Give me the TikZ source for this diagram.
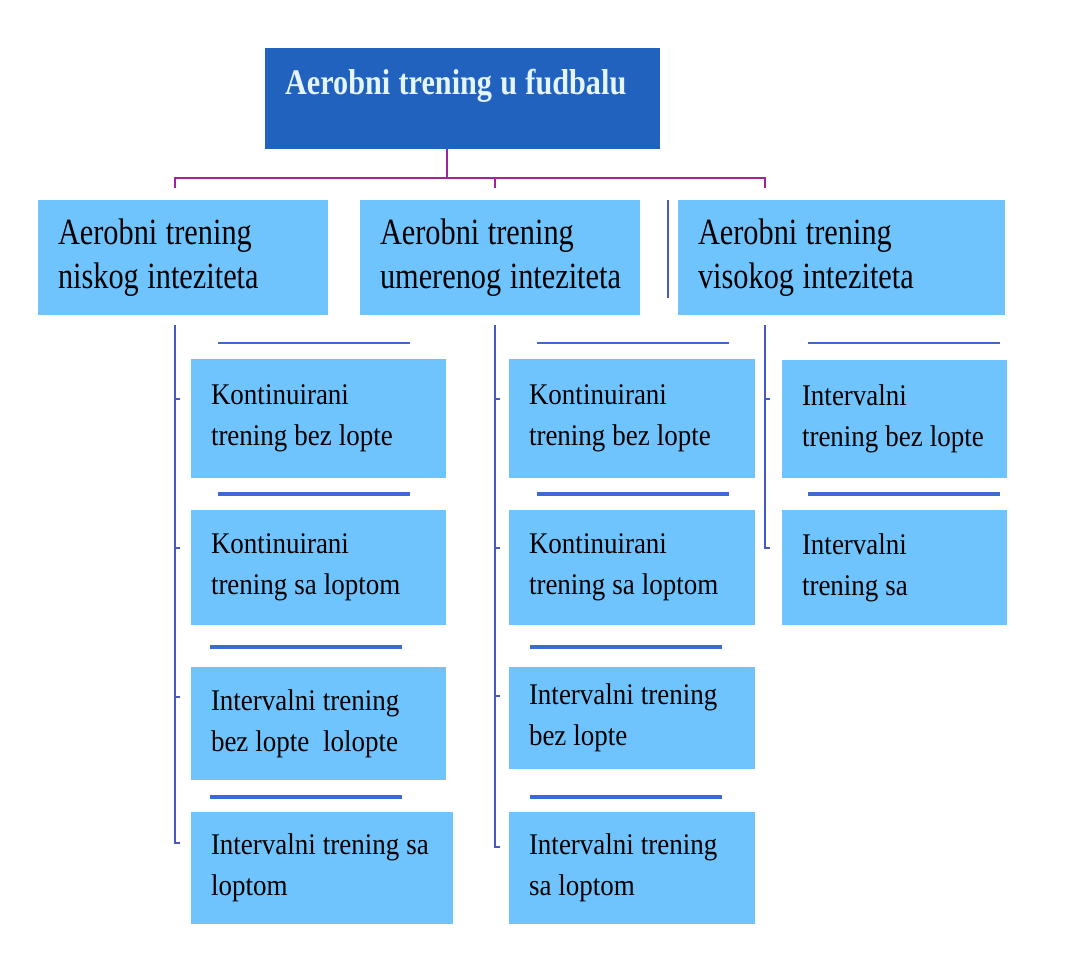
\documentclass[tikz,border=0pt]{standalone}
\usepackage{fontspec}
\setmainfont{Liberation Serif}
\newfontfamily\titleface{Liberation Serif}[FakeStretch=0.84]
\newfontfamily\groupface{Liberation Serif}[FakeStretch=0.82]
\newfontfamily\itemface{Liberation Serif}[FakeStretch=0.9]
\usepackage{xcolor}
\usepackage{tikz}
\definecolor{titleblue}{RGB}{33,98,191}
\definecolor{titletext}{RGB}{228,245,255}
\definecolor{skyfill}{RGB}{112,196,254}
\definecolor{busline}{RGB}{163,35,155}
\definecolor{spineline}{RGB}{74,88,198}
\definecolor{ledgeline}{RGB}{62,104,214}
\tikzset{
  padleft/.style={inner xsep=0pt,text width=#1,
    execute at begin node={\raggedright\leftskip=20pt\spaceskip=.23em\relax}},
  titlebox/.style={fill=titleblue,text=titletext,anchor=north west,padleft=395pt,
    font=\titleface\fontsize{36}{40}\selectfont\bfseries,
    minimum height=101pt,text height=26pt,text depth=33pt},
  groupbox/.style={fill=skyfill,anchor=north west,minimum height=115pt,
    font=\groupface\fontsize{37}{44}\selectfont},
  itembox/.style={fill=skyfill,anchor=north west,
    font=\itemface\fontsize{30}{41}\selectfont},
  bus/.style={draw=busline,line width=2pt},
  spine/.style={draw=spineline,line width=2pt},
  ledge/.style={draw=ledgeline,line width=#1},
  ledge/.default=2.5pt
}

\begin{document}
\begin{tikzpicture}[x=1pt,y=-1pt,inner sep=0pt,outer sep=0pt]
\useasboundingbox[fill=white] (0,0) rectangle (1080,971);
% top
\node[titlebox] (title) at (265,48) {Aerobni trening u fudbalu};
% intensity groups
\node[groupbox,padleft=290pt] (grpA) at (38,200) {Aerobni trening\\niskog inteziteta};
\node[groupbox,padleft=280pt] (grpB) at (360,200) {Aerobni trening\\umerenog inteziteta};
\node[groupbox,padleft=327pt] (grpC) at (678,200) {Aerobni trening\\visokog inteziteta};
% low
\node[itembox,padleft=255pt,minimum height=119pt] (a1) at (191,359) {Kontinuirani\\trening bez lopte};
\node[itembox,padleft=255pt,minimum height=115pt] (a2) at (191,510) {Kontinuirani\\trening sa loptom};
\node[itembox,padleft=255pt,minimum height=113pt] (a3) at (191,667) {Intervalni trening\\bez lopte\ \ lolopte};
\node[itembox,padleft=262pt,minimum height=112pt] (a4) at (191,812) {Intervalni trening sa\\loptom};
% moderate
\node[itembox,padleft=246pt,minimum height=119pt] (b1) at (509,359) {Kontinuirani\\trening bez lopte};
\node[itembox,padleft=246pt,minimum height=115pt] (b2) at (509,510) {Kontinuirani\\trening sa loptom};
\node[itembox,padleft=246pt,minimum height=102pt] (b3) at (509,667) {Intervalni trening\\bez lopte};
\node[itembox,padleft=246pt,minimum height=112pt] (b4) at (509,812) {Intervalni trening\\sa loptom};
% high
\node[itembox,padleft=225pt,minimum height=118pt] (c1) at (782,360) {Intervalni\\trening bez lopte};
\node[itembox,padleft=225pt,minimum height=115pt] (c2) at (782,510) {Intervalni\\trening sa};

\coordinate (spA) at (175,325);
\coordinate (spB) at (495,325);
\coordinate (spC) at (765,325);
\draw[bus] ([xshift=-16pt]title.south) -- ++(0,29) coordinate (hub);
\draw[bus] (spA |- hub) ++(0,10) -- (spA |- hub) -- (spC |- hub) -- ++(0,10);
\draw[bus] (spB |- hub) -- ++(0,10);

\draw[spine] (spA) -- ++(0,518) -- ++(5,0);
\draw[spine] (spB) -- ++(0,522) -- ++(5,0);
\draw[spine] (spC) -- ++(0,223) -- ++(5,0);
\foreach \n/\dx/\dy in {a1/16/40,a2/16/38,a3/16/30,b1/14/40,b2/14/38,b3/14/29,c1/17/39}
  \draw[spine] ([xshift=-\dx pt,yshift=-\dy pt]\n.north west) -- ++(5,0);
\draw[spine] ([xshift=-10pt]grpC.north west) -- ++(0,98);

\foreach \n/\dx/\dy/\w in {a1/27/16/2.5,a2/27/16/4.5,a3/19/20/4.5,a4/19/15/4.5,
    b1/28/16/2.5,b2/28/16/4.5,b3/21/20/4.5,b4/21/15/4.5,c1/26/17/2.5,c2/26/16/4.5}
  \draw[ledge=\w pt] ([xshift=\dx pt,yshift=\dy pt]\n.north west) -- ++(192,0);
\end{tikzpicture}
\end{document}
